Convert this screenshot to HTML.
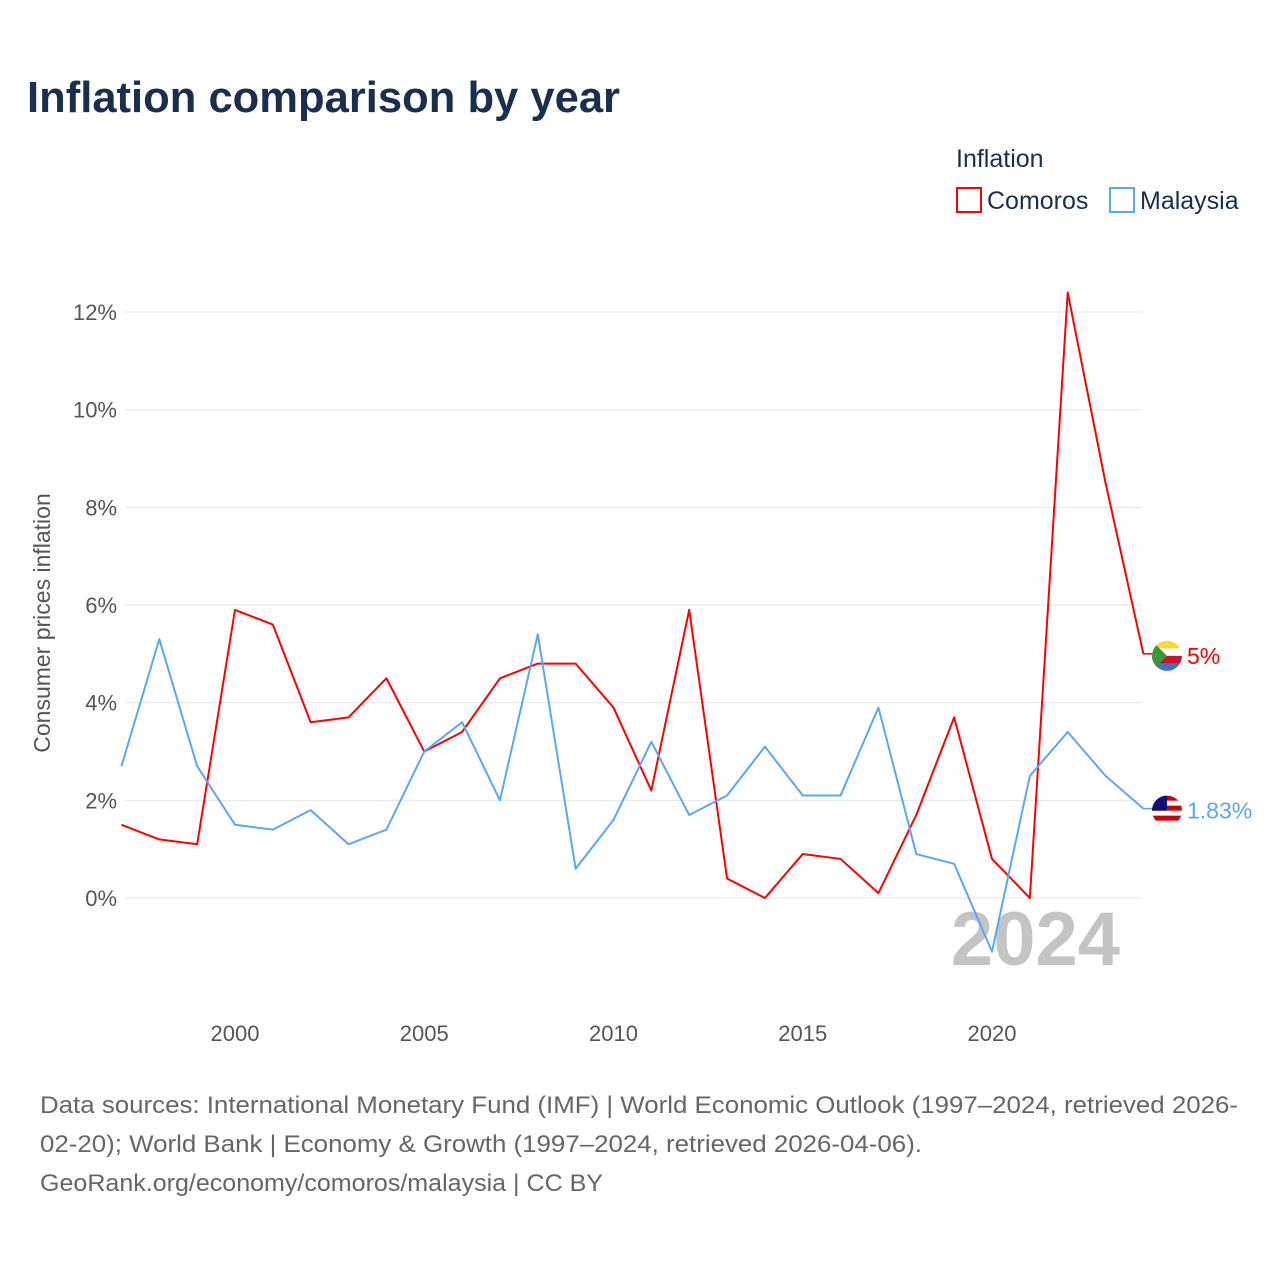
<!DOCTYPE html>
<html><head><meta charset="utf-8">
<style>
html,body{margin:0;padding:0;background:#fff;}
body{width:1280px;height:1280px;position:relative;font-family:"Liberation Sans",sans-serif;overflow:hidden}
</style></head>
<body>
<svg id="chart" width="1280" height="1280" xmlns="http://www.w3.org/2000/svg">
<text x="27" y="112" font-size="44" font-weight="bold" fill="#1a2e50" textLength="593" lengthAdjust="spacingAndGlyphs">Inflation comparison by year</text>
<g>
<text x="956" y="167" font-size="25" fill="#1a2e50">Inflation</text>
<g><rect x="957" y="188" width="24" height="24" fill="none" stroke="#ff0000" stroke-width="2"/><text x="987" y="209" font-size="25" fill="#1a2e50">Comoros</text></g>
<g><rect x="1110" y="188" width="24" height="24" fill="none" stroke="#5ba8f0" stroke-width="2"/><text x="1140" y="209" font-size="25" fill="#1a2e50">Malaysia</text></g>
</g>
<text transform="translate(50,623) rotate(-90)" text-anchor="middle" font-size="23" fill="#555">Consumer prices inflation</text>
<g id="grid"></g><g id="xt"></g>
<text x="1120" y="965" text-anchor="end" font-size="76" font-weight="bold" fill="#c4c4c4">2024</text>
<g id="lines"></g>
<text x="40" y="1113" font-size="24" fill="#666" textLength="1198" lengthAdjust="spacingAndGlyphs">Data sources: International Monetary Fund (IMF) | World Economic Outlook (1997–2024, retrieved 2026-</text>
<text x="40" y="1152" font-size="24" fill="#666" textLength="882" lengthAdjust="spacingAndGlyphs">02-20); World Bank | Economy &amp; Growth (1997–2024, retrieved 2026-04-06).</text>
<text x="40" y="1191" font-size="24" fill="#666" textLength="563" lengthAdjust="spacingAndGlyphs">GeoRank.org/economy/comoros/malaysia | CC BY</text>
</svg>
<script>
const years=[1997,1998,1999,2000,2001,2002,2003,2004,2005,2006,2007,2008,2009,2010,2011,2012,2013,2014,2015,2016,2017,2018,2019,2020,2021,2022,2023,2024];
const comoros=[1.5,1.2,1.1,5.9,5.6,3.6,3.7,4.5,3.0,3.4,4.5,4.8,4.8,3.9,2.2,5.9,0.4,0.0,0.9,0.8,0.1,1.7,3.7,0.8,0.0,12.4,8.5,5.0];
const malaysia=[2.7,5.3,2.7,1.5,1.4,1.8,1.1,1.4,3.0,3.6,2.0,5.4,0.6,1.6,3.2,1.7,2.1,3.1,2.1,2.1,3.9,0.9,0.7,-1.1,2.5,3.4,2.5,1.83];
const yTicks=[0,2,4,6,8,10,12];
const xTicks=[2000,2005,2010,2015,2020];
const NS="http://www.w3.org/2000/svg";
const X=y=>235+(y-2000)*37.85;
const Y=v=>898-v*48.83;
function mk(t,a,p){const e=document.createElementNS(NS,t);for(const k in a)e.setAttribute(k,a[k]);p.appendChild(e);return e;}
const g=document.getElementById('grid');
yTicks.forEach(v=>{
 const l=mk('line',{x1:125,x2:1142,y1:Y(v),y2:Y(v),stroke:'#e6e6e6','stroke-width':1},g);
 
 
 const t=mk('text',{x:117,y:Y(v)+8,'text-anchor':'end','font-size':22,fill:'#555'},g);
 t.textContent=v+'%';
 
 
});
const xt=document.getElementById('xt');
xTicks.forEach(v=>{
 const t=mk('text',{x:X(v),y:1041,'text-anchor':'middle','font-size':22,fill:'#555'},xt);
 t.textContent=v;
 
 
});
const L=document.getElementById('lines');
function series(vals,col,name,label,flag){
 const d=vals.map((v,i)=>(i?'L':'M')+X(years[i])+','+Y(v)).join(' ');
 const p=mk('path',{d:d,fill:'none',stroke:col,'stroke-width':2,'stroke-linejoin':'round'},L);
 
 
 const last=vals[vals.length-1],ly=Y(last),lx=X(years[years.length-1]);
 mk('line',{x1:lx,x2:lx+10,y1:ly,y2:ly,stroke:col,'stroke-width':1.5},L);
 const f=mk('g',{},L);
 
 
 const cx=1167,cy=ly+2,r=15;
 mk('clipPath',{id:'c'+name},f);
 mk('circle',{cx:cx,cy:cy,r:r},f.lastChild);
 const gg=mk('g',{'clip-path':'url(#c'+name+')'},f);
 flag.forEach((c,i)=>mk('rect',{x:cx-r,y:cy-r+i*(2*r/flag.length),width:2*r,height:2*r/flag.length+0.5,fill:c},gg));
 if(name==='comoros')mk('polygon',{points:`${cx-r},${cy-r} ${cx},${cy} ${cx-r},${cy+r}`,fill:'#3a9a3a'},gg);
 else mk('rect',{x:cx-r,y:cy-r,width:r,height:r,fill:'#10107a'},gg);
 const t=mk('text',{x:1187,y:ly+10,'font-size':23,fill:col},L);
 t.textContent=label;
 
 
}
series(comoros,'#ff0000','comoros',comoros[comoros.length-1]+'%',['#ffd630','#ffffff','#d21034','#3a75c4']);
series(malaysia,'#5ba8f0','malaysia',malaysia[malaysia.length-1]+'%',['#cc0001','#ffffff','#cc0001','#ffffff','#cc0001','#ffffff']);
</script>
</body></html>
